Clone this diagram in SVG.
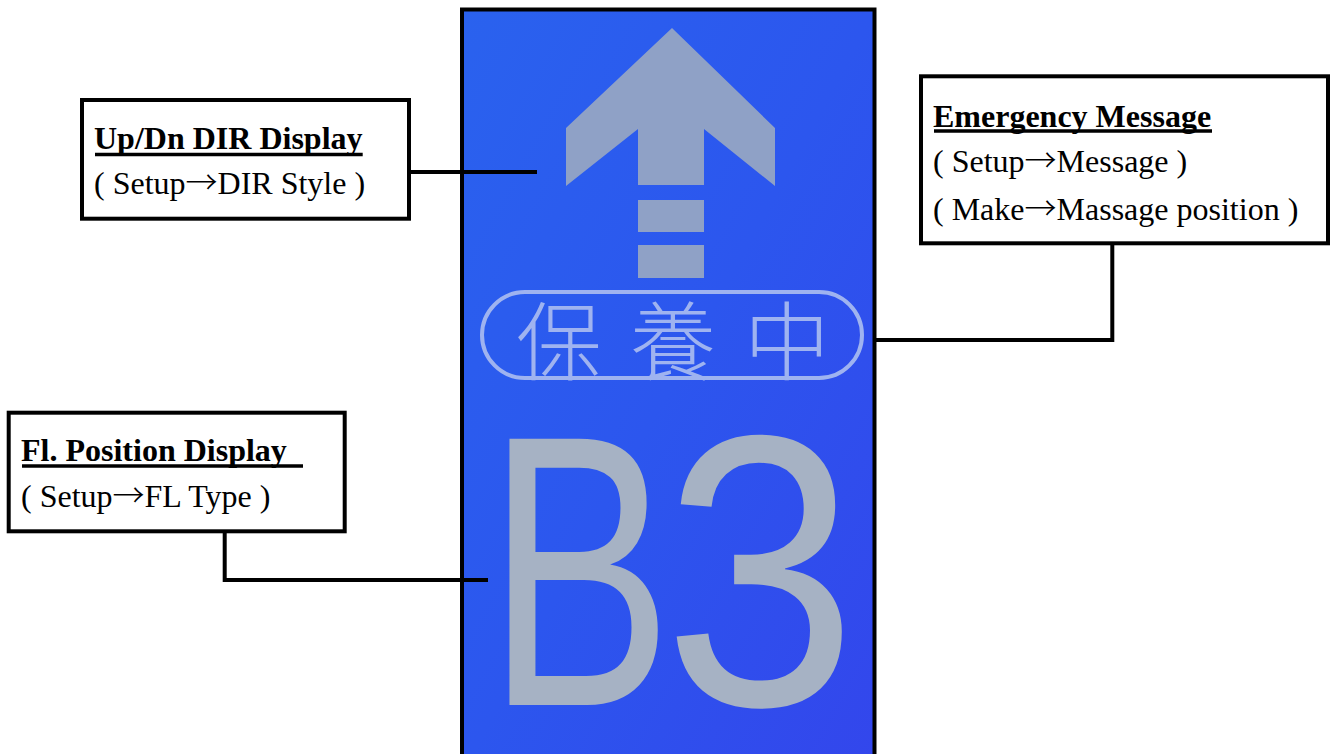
<svg xmlns="http://www.w3.org/2000/svg" width="1334" height="754" viewBox="0 0 1334 754">
<defs>
<linearGradient id="lcd" x1="0" y1="0" x2="1" y2="1">
<stop offset="0" stop-color="#2a62ee"/>
<stop offset="0.5" stop-color="#2c56ee"/>
<stop offset="1" stop-color="#3346ec"/>
</linearGradient>
<style>
.box{fill:#ffffff;stroke:#000;stroke-width:4}
.title{font-family:"Liberation Serif","Times New Roman",serif;font-size:32px;font-weight:bold;fill:#000}
.sub{font-family:"Liberation Serif","Times New Roman",serif;font-size:32px;fill:#000}
.arr{font-family:"Noto Sans CJK TC","Noto Sans CJK SC",sans-serif;font-weight:300}
.ul{stroke:#000;stroke-width:3.5}
.conn{fill:none;stroke:#000;stroke-width:4}
.lcdfg{fill:#8fa1c6}
.big{font-family:"Liberation Sans",Arial,sans-serif;font-size:387px;fill:#a6b2c4}
.cjk{font-family:"Noto Sans CJK TC","Noto Sans CJK SC",sans-serif;font-size:86px;font-weight:300;fill:#9fb3f0;letter-spacing:28px}
</style>
</defs>
<rect width="1334" height="754" fill="#ffffff"/>
<g id="lcd-screen">
<rect x="462" y="9.5" width="412.5" height="760" fill="url(#lcd)" stroke="#000" stroke-width="4"/>
<polygon class="lcdfg" points="672,28 775,128 775,186 704,129 704,185 638,185 638,129 566,186 566,128"/>
<rect class="lcdfg" x="638" y="200" width="66" height="32"/>
<rect class="lcdfg" x="638" y="245" width="66" height="33"/>
<rect x="482" y="292" width="380" height="86" rx="43" ry="43" fill="none" stroke="#9fb3f0" stroke-width="4"/>
<text class="cjk" x="516" y="336" dominant-baseline="central">保養中</text>
<text class="big" transform="translate(486.6,705) scale(0.72,1)" x="0" y="0">B</text>
<text class="big" transform="translate(663.4,705) scale(0.9,1)" x="0" y="0">3</text>
</g>
<g id="connectors">
<polyline class="conn" points="409,172 537,172"/>
<polyline class="conn" points="1112.3,243 1112.3,340 874,340"/>
<polyline class="conn" points="224.7,531 224.7,580 488,580"/>
</g>
<g id="node-dir">
<rect class="box" x="82" y="100" width="327" height="118.7"/>
<text class="title" x="94" y="149">Up/Dn DIR Display</text>
<line class="ul" x1="95" y1="154.5" x2="362.7" y2="154.5"/>
<text class="sub" x="94" y="193.5">( Setup<tspan class="arr">→</tspan>DIR Style )</text>
</g>
<g id="node-emergency">
<rect class="box" x="921" y="76.3" width="407" height="167"/>
<text class="title" x="933" y="127.3">Emergency Message</text>
<line class="ul" x1="934" y1="131" x2="1212" y2="131"/>
<text class="sub" x="933" y="171.7">( Setup<tspan class="arr">→</tspan>Message )</text>
<text class="sub" x="933" y="220">( Make<tspan class="arr">→</tspan>Massage position )</text>
</g>
<g id="node-floor">
<rect class="box" x="8.7" y="412.7" width="336" height="118.6"/>
<text class="title" x="21" y="461">Fl. Position Display</text>
<line class="ul" x1="22" y1="466" x2="303" y2="466"/>
<text class="sub" x="21" y="507">( Setup<tspan class="arr">→</tspan>FL Type )</text>
</g>
</svg>
